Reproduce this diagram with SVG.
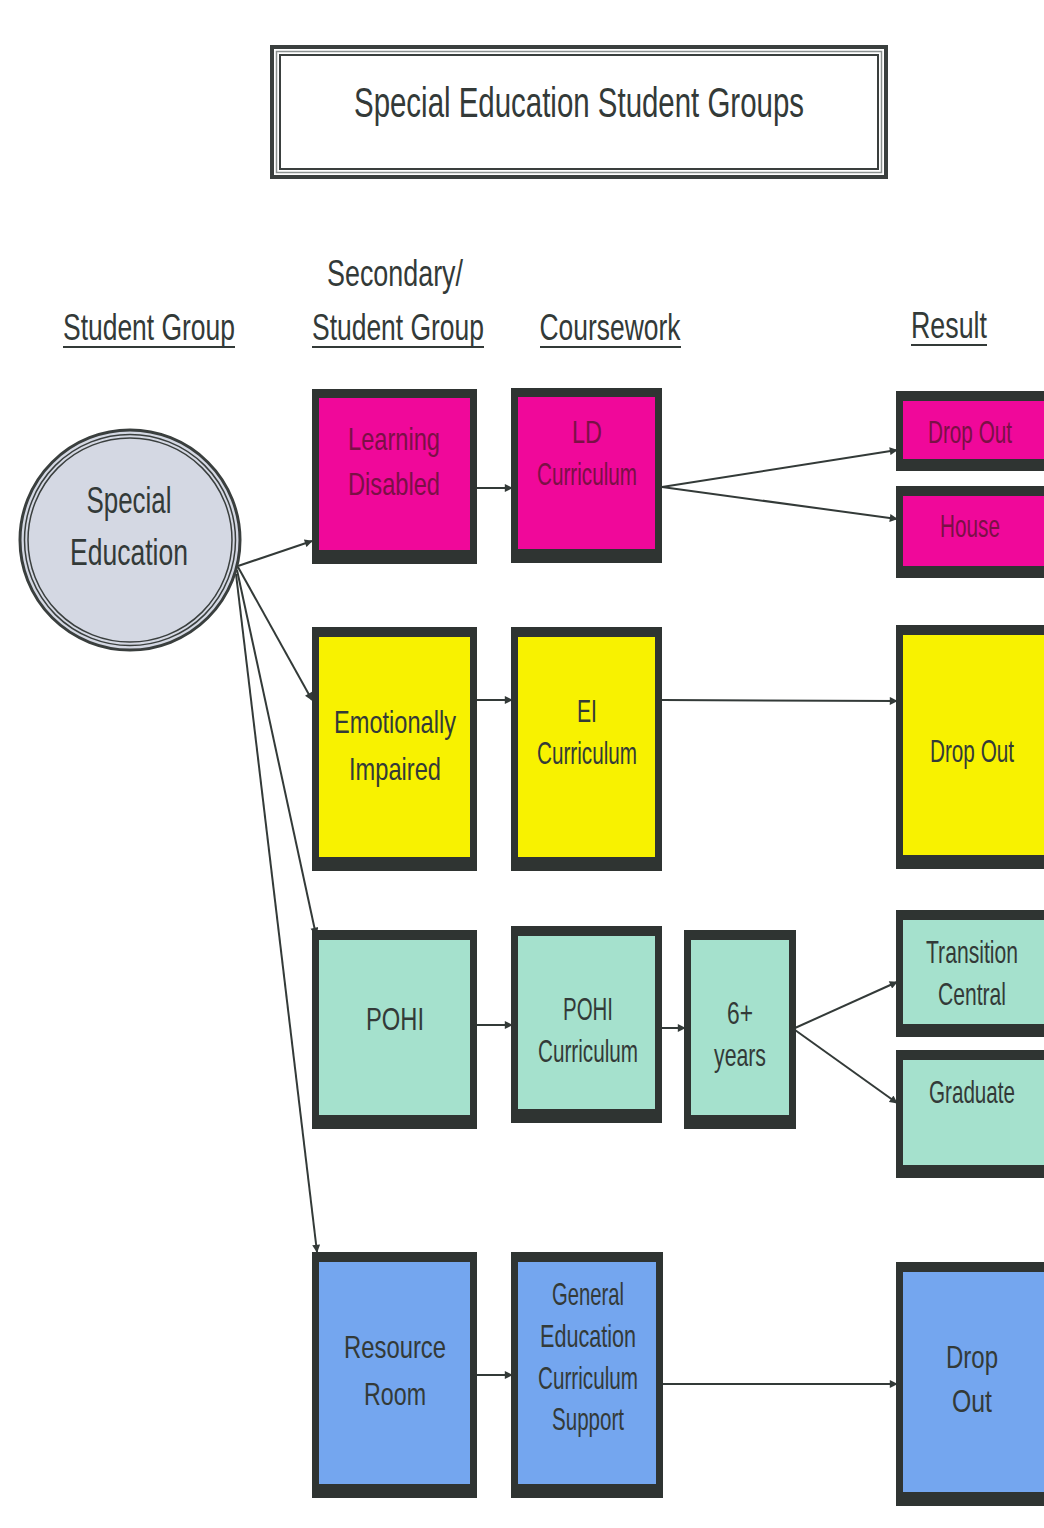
<svg xmlns="http://www.w3.org/2000/svg" width="1044" height="1528" viewBox="0 0 1044 1528">
<style>
.t{font-family:"Liberation Sans",Arial,sans-serif;text-anchor:middle;fill:#333a38}
.h{font-size:37px}
.b{font-size:32px}
.m{fill:#7a1046}
.ul{stroke:#333a38;stroke-width:2}
.frame{fill:#2f3432}
.mag{fill:#f0089a}
.yel{fill:#f8f200}
.teal{fill:#a5e1cd}
.blue{fill:#74a6ef}
.c{stroke:#333a38;stroke-width:2;fill:none}
</style>
<defs>
<marker id="a" viewBox="0 0 10 10" refX="9" refY="5" markerWidth="9" markerHeight="8" orient="auto" markerUnits="userSpaceOnUse">
<path d="M0,0 L10,5 L0,10 z" fill="#333a38"/>
</marker>
</defs>
<rect width="1044" height="1528" fill="#ffffff"/>

<g id="title">
<rect x="272" y="47" width="614" height="130" fill="none" stroke="#3a3f3e" stroke-width="4"/>
<rect x="276.5" y="51.5" width="605" height="121" fill="none" stroke="#8a908f" stroke-width="1.5"/>
<rect x="280" y="55" width="598" height="114" fill="none" stroke="#3a3f3e" stroke-width="2"/>
<text class="t" x="579" y="117" font-size="42" textLength="450" lengthAdjust="spacingAndGlyphs">Special Education Student Groups</text>
</g>

<g id="headers">
<text class="t h" x="149" y="340" textLength="172" lengthAdjust="spacingAndGlyphs">Student Group</text>
<line class="ul" x1="63" y1="347" x2="235" y2="347"/>
<text class="t h" x="395" y="286" textLength="136" lengthAdjust="spacingAndGlyphs">Secondary/</text>
<text class="t h" x="398" y="340" textLength="172" lengthAdjust="spacingAndGlyphs">Student Group</text>
<line class="ul" x1="312" y1="347" x2="484" y2="347"/>
<text class="t h" x="610" y="340" textLength="141" lengthAdjust="spacingAndGlyphs">Coursework</text>
<line class="ul" x1="540" y1="347" x2="681" y2="347"/>
<text class="t h" x="949" y="338" textLength="76" lengthAdjust="spacingAndGlyphs">Result</text>
<line class="ul" x1="911" y1="345" x2="987" y2="345"/>
</g>

<g id="connectors">
<line class="c" x1="238" y1="566" x2="312" y2="541" marker-end="url(#a)"/>
<line class="c" x1="238" y1="567" x2="312" y2="700" marker-end="url(#a)"/>
<line class="c" x1="237" y1="570" x2="316" y2="935" marker-end="url(#a)"/>
<line class="c" x1="236" y1="574" x2="317" y2="1252" marker-end="url(#a)"/>
<line class="c" x1="477" y1="488" x2="512" y2="488" marker-end="url(#a)"/>
<line class="c" x1="662" y1="487" x2="897" y2="450" marker-end="url(#a)"/>
<line class="c" x1="662" y1="487" x2="897" y2="519" marker-end="url(#a)"/>
<line class="c" x1="477" y1="700" x2="512" y2="700" marker-end="url(#a)"/>
<line class="c" x1="662" y1="700" x2="897" y2="701" marker-end="url(#a)"/>
<line class="c" x1="477" y1="1025" x2="512" y2="1025" marker-end="url(#a)"/>
<line class="c" x1="662" y1="1028" x2="685" y2="1028" marker-end="url(#a)"/>
<line class="c" x1="795" y1="1028" x2="897" y2="982" marker-end="url(#a)"/>
<line class="c" x1="795" y1="1030" x2="897" y2="1103" marker-end="url(#a)"/>
<line class="c" x1="477" y1="1375" x2="512" y2="1375" marker-end="url(#a)"/>
<line class="c" x1="662" y1="1384" x2="897" y2="1384" marker-end="url(#a)"/>
</g>

<g id="special-education">
<circle cx="130" cy="540" r="110" fill="#d4d8e3" stroke="#3a3f3e" stroke-width="3"/>
<circle cx="130" cy="540" r="105.5" fill="none" stroke="#3a3f3e" stroke-width="1.5"/>
<circle cx="130" cy="540" r="102" fill="none" stroke="#3a3f3e" stroke-width="1.5"/>
<text class="t h" x="129" y="513" textLength="85" lengthAdjust="spacingAndGlyphs">Special</text>
<text class="t h" x="129" y="565" textLength="118" lengthAdjust="spacingAndGlyphs">Education</text>
</g>

<g id="learning-disabled">
<rect class="frame" x="312" y="389" width="165" height="175"/>
<rect class="mag" x="319" y="398" width="151" height="152"/>
<text class="t b m" x="394" y="450" textLength="92" lengthAdjust="spacingAndGlyphs">Learning</text>
<text class="t b m" x="394" y="495" textLength="92" lengthAdjust="spacingAndGlyphs">Disabled</text>
</g>
<g id="ld-curriculum">
<rect class="frame" x="511" y="388" width="151" height="175"/>
<rect class="mag" x="518" y="397" width="137" height="152"/>
<text class="t b m" x="587" y="443" textLength="30" lengthAdjust="spacingAndGlyphs">LD</text>
<text class="t b m" x="587" y="485" textLength="100" lengthAdjust="spacingAndGlyphs">Curriculum</text>
</g>
<g id="ld-dropout">
<rect class="frame" x="896" y="391" width="148" height="80"/>
<rect class="mag" x="903" y="401" width="141" height="58"/>
<text class="t b m" x="970" y="443" textLength="84" lengthAdjust="spacingAndGlyphs">Drop Out</text>
</g>
<g id="ld-house">
<rect class="frame" x="896" y="486" width="148" height="92"/>
<rect class="mag" x="903" y="496" width="141" height="70"/>
<text class="t b m" x="970" y="537" textLength="60" lengthAdjust="spacingAndGlyphs">House</text>
</g>

<g id="emotionally-impaired">
<rect class="frame" x="312" y="627" width="165" height="244"/>
<rect class="yel" x="319" y="637" width="151" height="220"/>
<text class="t b" x="395" y="733" textLength="122" lengthAdjust="spacingAndGlyphs">Emotionally</text>
<text class="t b" x="395" y="780" textLength="92" lengthAdjust="spacingAndGlyphs">Impaired</text>
</g>
<g id="ei-curriculum">
<rect class="frame" x="511" y="627" width="151" height="244"/>
<rect class="yel" x="518" y="637" width="137" height="220"/>
<text class="t b" x="587" y="722" textLength="20" lengthAdjust="spacingAndGlyphs">EI</text>
<text class="t b" x="587" y="764" textLength="100" lengthAdjust="spacingAndGlyphs">Curriculum</text>
</g>
<g id="ei-dropout">
<rect class="frame" x="896" y="625" width="148" height="244"/>
<rect class="yel" x="903" y="635" width="141" height="220"/>
<text class="t b" x="972" y="762" textLength="84" lengthAdjust="spacingAndGlyphs">Drop Out</text>
</g>

<g id="pohi">
<rect class="frame" x="312" y="930" width="165" height="199"/>
<rect class="teal" x="319" y="940" width="151" height="175"/>
<text class="t b" x="395" y="1030" textLength="58" lengthAdjust="spacingAndGlyphs">POHI</text>
</g>
<g id="pohi-curriculum">
<rect class="frame" x="511" y="926" width="151" height="197"/>
<rect class="teal" x="518" y="936" width="137" height="173"/>
<text class="t b" x="588" y="1020" textLength="50" lengthAdjust="spacingAndGlyphs">POHI</text>
<text class="t b" x="588" y="1062" textLength="100" lengthAdjust="spacingAndGlyphs">Curriculum</text>
</g>
<g id="six-years">
<rect class="frame" x="684" y="930" width="112" height="199"/>
<rect class="teal" x="691" y="940" width="98" height="175"/>
<text class="t b" x="740" y="1024" textLength="26" lengthAdjust="spacingAndGlyphs">6+</text>
<text class="t b" x="740" y="1066" textLength="52" lengthAdjust="spacingAndGlyphs">years</text>
</g>
<g id="transition-central">
<rect class="frame" x="896" y="910" width="148" height="127"/>
<rect class="teal" x="903" y="920" width="141" height="104"/>
<text class="t b" x="972" y="963" textLength="92" lengthAdjust="spacingAndGlyphs">Transition</text>
<text class="t b" x="972" y="1005" textLength="68" lengthAdjust="spacingAndGlyphs">Central</text>
</g>
<g id="graduate">
<rect class="frame" x="896" y="1050" width="148" height="128"/>
<rect class="teal" x="903" y="1060" width="141" height="105"/>
<text class="t b" x="972" y="1103" textLength="86" lengthAdjust="spacingAndGlyphs">Graduate</text>
</g>

<g id="resource-room">
<rect class="frame" x="312" y="1252" width="165" height="246"/>
<rect class="blue" x="319" y="1262" width="151" height="222"/>
<text class="t b" x="395" y="1358" textLength="102" lengthAdjust="spacingAndGlyphs">Resource</text>
<text class="t b" x="395" y="1405" textLength="62" lengthAdjust="spacingAndGlyphs">Room</text>
</g>
<g id="gen-ed-curriculum">
<rect class="frame" x="511" y="1252" width="152" height="246"/>
<rect class="blue" x="518" y="1262" width="138" height="222"/>
<text class="t b" x="588" y="1305" textLength="72" lengthAdjust="spacingAndGlyphs">General</text>
<text class="t b" x="588" y="1347" textLength="96" lengthAdjust="spacingAndGlyphs">Education</text>
<text class="t b" x="588" y="1389" textLength="100" lengthAdjust="spacingAndGlyphs">Curriculum</text>
<text class="t b" x="588" y="1430" textLength="72" lengthAdjust="spacingAndGlyphs">Support</text>
</g>
<g id="rr-dropout">
<rect class="frame" x="896" y="1262" width="148" height="244"/>
<rect class="blue" x="903" y="1272" width="141" height="220"/>
<text class="t b" x="972" y="1368" textLength="52" lengthAdjust="spacingAndGlyphs">Drop</text>
<text class="t b" x="972" y="1412" textLength="40" lengthAdjust="spacingAndGlyphs">Out</text>
</g>
</svg>
